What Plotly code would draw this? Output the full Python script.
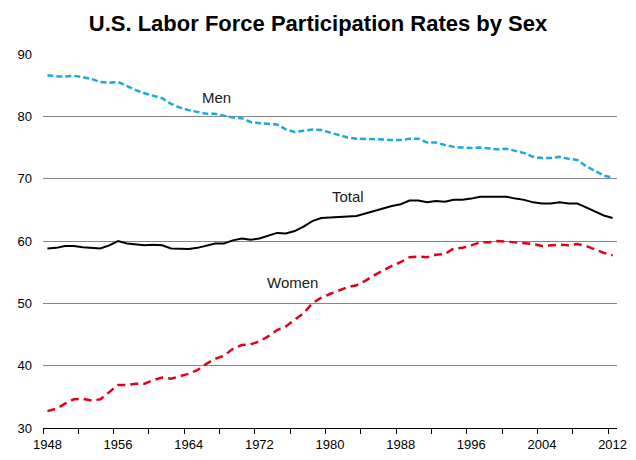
import plotly.graph_objects as go

years = list(range(1948, 2013))

total = [58.8, 58.9, 59.2, 59.2, 59.0, 58.9, 58.8, 59.3, 60.0, 59.6,
         59.5, 59.3, 59.4, 59.3, 58.8, 58.7, 58.7, 58.9, 59.2, 59.6,
         59.6, 60.1, 60.4, 60.2, 60.4, 60.8, 61.3, 61.2, 61.6, 62.3,
         63.2, 63.7, 63.8, 63.9, 64.0, 64.0, 64.4, 64.8, 65.3, 65.6,
         65.9, 66.5, 66.5, 66.2, 66.4, 66.3, 66.6, 66.6, 66.8, 67.1,
         67.1, 67.1, 67.1, 66.8, 66.6, 66.2, 66.0, 66.0, 66.2, 66.0,
         66.0, 65.4, 64.7, 64.1, 63.7]

men = [86.6, 86.4, 86.4, 86.5, 86.3, 86.0, 85.5, 85.4, 85.5, 84.8,
       84.2, 83.7, 83.3, 82.9, 82.0, 81.4, 81.0, 80.7, 80.4, 80.4,
       80.1, 79.8, 79.7, 79.1, 78.9, 78.8, 78.7, 77.9, 77.5, 77.7,
       77.9, 77.8, 77.4, 77.0, 76.6, 76.4, 76.4, 76.3, 76.3, 76.2,
       76.2, 76.4, 76.4, 75.8, 75.8, 75.4, 75.1, 75.0, 74.9, 75.0,
       74.9, 74.7, 74.8, 74.4, 74.1, 73.5, 73.3, 73.3, 73.5, 73.2,
       73.0, 72.0, 71.2, 70.5, 70.2]

women = [32.7, 33.1, 33.9, 34.6, 34.7, 34.4, 34.6, 35.7, 36.9, 36.9,
         37.1, 37.1, 37.7, 38.1, 37.9, 38.3, 38.7, 39.3, 40.3, 41.1,
         41.6, 42.7, 43.3, 43.4, 43.9, 44.7, 45.7, 46.3, 47.3, 48.4,
         50.0, 50.9, 51.5, 52.1, 52.6, 52.9, 53.6, 54.5, 55.3, 56.0,
         56.6, 57.4, 57.5, 57.4, 57.8, 57.9, 58.8, 58.9, 59.3, 59.8,
         59.8, 60.0, 59.9, 59.8, 59.6, 59.5, 59.2, 59.3, 59.4, 59.3,
         59.5, 59.2, 58.6, 58.1, 57.7]

label_years = list(range(1948, 2013, 8))
tick_marks = [y - 0.5 for y in range(1948, 2013, 4)]
y_ticks = [30, 40, 50, 60, 70, 80, 90]

series_labels = [("Men", 1967.2, 83.0), ("Total", 1982.0, 67.2), ("Women", 1975.8, 53.3)]

fig = go.Figure()
fig.add_trace(go.Scatter(x=years, y=men, mode="lines", name="Men",
                         line=dict(color="#1FA9DA", width=2.5, dash="6px,3px")))
fig.add_trace(go.Scatter(x=years, y=total, mode="lines", name="Total",
                         line=dict(color="#000000", width=2)))
fig.add_trace(go.Scatter(x=years, y=women, mode="lines", name="Women",
                         line=dict(color="#E2001A", width=2.5, dash="8px,5px")))
# invisible trace to activate label axis
fig.add_trace(go.Scatter(x=[years[0]], y=[total[0]], xaxis="x2", mode="markers",
                         marker=dict(opacity=0), showlegend=False, hoverinfo="skip"))

for txt, x, y in series_labels:
    fig.add_annotation(x=x, y=y, text=txt, showarrow=False,
                       font=dict(family="Liberation Sans, Arial", size=15, color="#1a1a1a"))

# page body has an 8px margin, so the figure is drawn 8px in from the window corner
W, H, OFF = 636 - 8, 460 - 8, 8
xr = [1947.5, 2012.5]
fig.update_layout(
    width=W, height=H,
    margin=dict(l=43 - OFF, r=19, t=54 - OFF, b=32, autoexpand=False),
    paper_bgcolor="white", plot_bgcolor="white",
    showlegend=False,
    title=dict(text="<b>U.S. Labor Force Participation Rates by Sex</b>",
               x=0.5 - OFF / 2 / W, xanchor="center", y=1 - (23 - OFF) / H, yanchor="middle",
               font=dict(family="Liberation Sans, Arial", size=22, color="black")),
    font=dict(family="Liberation Sans, Arial", size=13, color="black"),
    xaxis=dict(range=xr, tickvals=tick_marks, showticklabels=False,
               ticks="outside", ticklen=5, tickcolor="black", tickwidth=1,
               showline=True, linecolor="black", linewidth=1,
               showgrid=False, zeroline=False, automargin=False),
    xaxis2=dict(range=xr, overlaying="x", side="bottom", anchor="y",
                tickvals=label_years, ticktext=[str(v) for v in label_years],
                ticks="", showline=False, showgrid=False, zeroline=False,
                tickfont=dict(size=13), ticklabelstandoff=7, automargin=False),
    yaxis=dict(range=[30, 90], tickvals=y_ticks, showgrid=True,
               gridcolor="#868686", gridwidth=1, showline=False,
               zeroline=False, ticks="", tickfont=dict(size=13),
               ticklabelstandoff=10, automargin=False),
)

fig.write_html("out.html")
